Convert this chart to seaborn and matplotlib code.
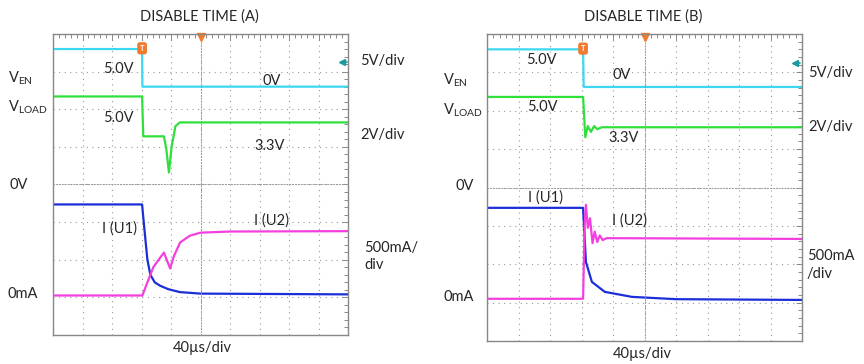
import matplotlib
matplotlib.use("Agg")
import matplotlib.pyplot as plt
from matplotlib.ticker import MultipleLocator
import numpy as np
import pandas as pd
import seaborn as sns

# scope traces
# x: time in divisions (40us/div), y: screen divisions
a_ven_t = [-5, -1.98, -1.97, 5]
a_ven_v = [3.6, 3.6, 2.6, 2.6]
a_vload_t = [-5, -1.98, -1.94, -1.24, -1.16, -1.07, -0.98, -0.85, -0.7, 5]
a_vload_v = [2.34, 2.34, 1.28, 1.28, 0.95, 0.32, 1.0, 1.55, 1.65, 1.65]
a_iu1_t = [-5, -1.98, -1.9, -1.8, -1.7, -1.55, -1.37, -1.1, -0.7, 0, 5]
a_iu1_v = [-0.53, -0.53, -1.2, -2.0, -2.4, -2.6, -2.69, -2.78, -2.86, -2.9, -2.92]
a_iu2_t = [-5, -1.97, -1.8, -1.6, -1.4, -1.24, -1.03, -0.9, -0.69, -0.36, 0, 1, 5]
a_iu2_v = [-2.95, -2.95, -2.6, -2.2, -1.98, -1.81, -2.23, -1.9, -1.54, -1.36, -1.28, -1.25, -1.24]

b_ven_t = [-5, -1.95, -1.93, 5]
b_ven_v = [3.6, 3.6, 2.62, 2.62]
b_vload_t = [-5, -1.95, -1.88, -1.8, -1.7, -1.6, -1.5, -1.35, 5]
b_vload_v = [2.36, 2.36, 1.31, 1.6, 1.45, 1.6, 1.52, 1.57, 1.57]
b_iu1_t = [-5, -1.95, -1.86, -1.67, -1.26, -0.4, 1, 5]
b_iu1_v = [-0.53, -0.53, -1.94, -2.46, -2.72, -2.85, -2.91, -2.93]
b_iu2_t = [-5, -1.95, -1.9, -1.86, -1.8, -1.73, -1.65, -1.58, -1.5, -1.42, -1.33, -1.2, 5]
b_iu2_v = [-2.9, -2.9, -1.0, -0.45, -1.05, -0.8, -1.45, -1.15, -1.42, -1.25, -1.37, -1.32, -1.34]

trig_a, trig_b = -1.98, -1.95

C_VEN = "#3cd8f2"
C_VLOAD = "#2fe03a"
C_IU1 = "#1b2ed8"
C_IU2 = "#f43fe0"
C_TRIG = "#f07a30"

sns.set_style("white")
plt.rcParams['font.family'] = ['Lato', 'DejaVu Sans']
plt.rcParams['mathtext.fontset'] = 'custom'
plt.rcParams['mathtext.rm'] = 'Lato'

W, H = 864, 364
fig = plt.figure(figsize=(W / 100, H / 100), dpi=100)


def ftext(x, y, s, **kw):
    kw.setdefault('fontsize', 10.5)
    kw.setdefault('va', 'center')
    fig.text(x / W, 1 - y / H, s, **kw)


def scope(box, traces, trig):
    x0, y0, x1, y1 = box
    pos = [x0 / W, 1 - y1 / H, (x1 - x0) / W, (y1 - y0) / H]
    ax = fig.add_axes(pos)
    for t, v, c in traces:
        df = pd.DataFrame({'t': t, 'v': v})
        sns.lineplot(data=df, x='t', y='v', color=c, lw=1.6, ax=ax,
                     estimator=None, sort=False)
    ax.set_xlim(-5, 5)
    ax.set_ylim(-4, 4)
    ax.set_xticks(np.arange(-5, 6))
    ax.set_yticks(np.arange(-4, 5))
    ax.xaxis.set_minor_locator(MultipleLocator(0.2))
    ax.yaxis.set_minor_locator(MultipleLocator(0.2))
    ax.tick_params(which='both', direction='in', top=True, right=True,
                   labelbottom=False, labelleft=False, color='#777777')
    ax.tick_params(which='major', length=4, width=0.6)
    ax.tick_params(which='minor', length=3, width=0.6)
    ax.grid(True, color='#999999', lw=0.8, ls=(0, (1, 4)))
    for s in ax.spines.values():
        s.set_color('#888888')
        s.set_linewidth(1.0)
    ax.set_xlabel('')
    ax.set_ylabel('')

    # centre crosshair with tick marks
    cx = fig.add_axes(pos, facecolor='none')
    cx.set_xlim(-5, 5)
    cx.set_ylim(-4, 4)
    for s in ['top', 'right']:
        cx.spines[s].set_visible(False)
    for s in ['left', 'bottom']:
        cx.spines[s].set_position(('data', 0))
        cx.spines[s].set_color('#999999')
        cx.spines[s].set_linewidth(0.7)
        cx.spines[s].set_linestyle((0, (1, 2)))
    cx.set_xticks(np.arange(-5, 6))
    cx.set_yticks(np.arange(-4, 5))
    cx.xaxis.set_minor_locator(MultipleLocator(0.2))
    cx.yaxis.set_minor_locator(MultipleLocator(0.2))
    cx.tick_params(which='both', direction='inout', length=4, width=0.6,
                   color='#888888', labelbottom=False, labelleft=False)

    # trigger marks
    ax.plot([0], [3.93], marker='v', color=C_TRIG, ms=6, clip_on=False)
    ax.text(trig, 3.62, 'T', color='white', fontsize=5.5, ha='center',
            va='center', fontweight='bold',
            bbox=dict(boxstyle='round,pad=0.25', fc=C_TRIG, ec=C_TRIG))
    ax.plot([4.78], [3.25], marker='<', color='#1a9aa0', ms=4.5)
    ax.plot([4.78, 4.95], [3.25, 3.25], color='#1a9aa0', lw=1.2)
    return ax


scope((53, 34, 348, 335),
      [(a_ven_t, a_ven_v, C_VEN), (a_vload_t, a_vload_v, C_VLOAD),
       (a_iu1_t, a_iu1_v, C_IU1), (a_iu2_t, a_iu2_v, C_IU2)], trig_a)
scope((487, 34, 802, 341),
      [(b_ven_t, b_ven_v, C_VEN), (b_vload_t, b_vload_v, C_VLOAD),
       (b_iu1_t, b_iu1_v, C_IU1), (b_iu2_t, b_iu2_v, C_IU2)], trig_b)

# panel A labels
ftext(199, 17, 'DISABLE TIME (A)', ha='center')
ftext(118, 69, '5.0V', ha='center')
ftext(118, 118, '5.0V', ha='center')
ftext(272, 81, '0V', ha='center')
ftext(270, 146, '3.3V', ha='center')
ftext(360, 61, '5V/div')
ftext(360, 135, '2V/div')
ftext(8, 78, r'V$_{\mathrm{EN}}$')
ftext(8, 107, r'V$_{\mathrm{LOAD}}$')
ftext(10, 185, '0V')
ftext(120, 229, 'I (U1)', ha='center')
ftext(272, 221, 'I (U2)', ha='center')
ftext(364, 248, '500mA/')
ftext(364, 265, 'div')
ftext(8, 294, '0mA')
ftext(202, 348, '40µs/div', ha='center')

# panel B labels
ftext(643, 17, 'DISABLE TIME (B)', ha='center')
ftext(541, 60, '5.0V', ha='center')
ftext(622, 75, '0V', ha='center')
ftext(542, 107, '5.0V', ha='center')
ftext(624, 138, '3.3V', ha='center')
ftext(808, 73, '5V/div')
ftext(808, 127, '2V/div')
ftext(443, 80, r'V$_{\mathrm{EN}}$')
ftext(443, 110, r'V$_{\mathrm{LOAD}}$')
ftext(455, 186, '0V')
ftext(545, 198, 'I (U1)', ha='center')
ftext(630, 221, 'I (U2)', ha='center')
ftext(807, 256, '500mA')
ftext(807, 274, '/div')
ftext(443, 297, '0mA')
ftext(642, 354, '40µs/div', ha='center')

fig.savefig('out.png', dpi=100)
